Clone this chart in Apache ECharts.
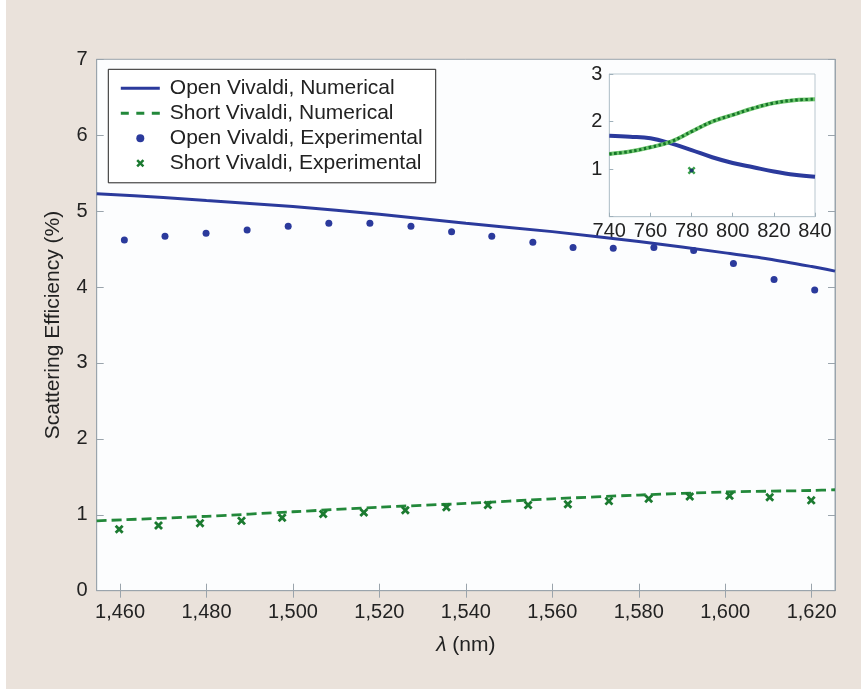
<!DOCTYPE html>
<html>
<head>
<meta charset="utf-8">
<script src="https://cdn.jsdelivr.net/npm/echarts@6/dist/echarts.min.js"></script>
<style>
  html, body { margin: 0; padding: 0; background: #ffffff; }
  #chart { position: absolute; left: 6px; top: 0; width: 855px; height: 689px; background: #eae2db; }
</style>
</head>
<body>
<div id="chart"></div>
<script>
// ---------- data ----------
const xTickValues = [1460, 1480, 1500, 1520, 1540, 1560, 1580, 1600, 1620];
const yTickValues = [0, 1, 2, 3, 4, 5, 6, 7];

// Open Vivaldi, numerical (nm, %)
const openNumX = [1454.6, 1470, 1480, 1500, 1520, 1540, 1560, 1580, 1600, 1610, 1620, 1625.4];
const openNumY = [5.23, 5.18, 5.14, 5.06, 4.96, 4.84, 4.73, 4.60, 4.45, 4.37, 4.27, 4.21];

// Short Vivaldi, numerical
const shortNumX = [1454.6, 1480, 1500, 1520, 1540, 1560, 1580, 1600, 1620, 1625.4];
const shortNumY = [0.92, 0.98, 1.04, 1.10, 1.15, 1.21, 1.26, 1.30, 1.32, 1.33];

// Open Vivaldi, experimental
const openExpX = [1461.0, 1470.4, 1479.9, 1489.4, 1498.9, 1508.3, 1517.8, 1527.3, 1536.7,
                  1546.0, 1555.5, 1564.8, 1574.1, 1583.5, 1592.7, 1601.9, 1611.3, 1620.7];
const openExpY = [4.62, 4.67, 4.71, 4.75, 4.80, 4.84, 4.84, 4.80, 4.73,
                  4.67, 4.59, 4.52, 4.51, 4.52, 4.48, 4.31, 4.10, 3.96];

// Short Vivaldi, experimental
const shortExpX = [1459.8, 1468.9, 1478.5, 1488.1, 1497.5, 1507.0, 1516.4, 1526.0, 1535.5,
                   1545.1, 1554.4, 1563.6, 1573.1, 1582.3, 1591.8, 1601.0, 1610.3, 1619.9];
const shortExpY = [0.81, 0.86, 0.89, 0.92, 0.96, 1.01, 1.03, 1.06, 1.10,
                   1.13, 1.13, 1.14, 1.18, 1.21, 1.24, 1.25, 1.23, 1.19];

// Inset (740–840)
const insetX = [740, 750, 760, 770, 780, 790, 800, 810, 820, 830, 840];
const insetOpenY = [1.70, 1.68, 1.65, 1.54, 1.40, 1.25, 1.13, 1.04, 0.95, 0.88, 0.84];
const insetShortY = [1.32, 1.37, 1.46, 1.58, 1.79, 2.00, 2.14, 2.28, 2.39, 2.45, 2.47];
const insetExpX = [780];
const insetExpOpenY = [0.97];
const insetExpShortY = [0.97];

// ---------- helpers ----------
const zip = (xs, ys) => xs.map((x, i) => [x, ys[i]]);
const fmtComma = v => String(v).replace(/\B(?=(\d{3})+(?!\d))/g, ',');

const BLUE = '#2b3a9c';
const GREEN = '#22883a';
const GREEN_DARK = '#1b7a30';
const FRAME = '#9aa4ac';
const FONT = "'Liberation Sans', Arial, Helvetica, sans-serif";
const XMARK = 'path://M0,2.2L2.2,0L5,2.8L7.8,0L10,2.2L7.2,5L10,7.8L7.8,10L5,7.2L2.2,10L0,7.8L2.8,5Z';
const NOFILL = { color: 'rgba(0,0,0,0)', borderWidth: 0 };

const chart = echarts.init(document.getElementById('chart'), null, { renderer: 'canvas' });

const mainX = { min: 1454.6, max: 1625.4 };

const option = {
  backgroundColor: '#eae2db',
  animation: false,
  textStyle: { fontFamily: FONT, color: '#222' },
  grid: [
    { left: 90.7, top: 59.3, width: 738.3, height: 531.4, show: true,
      backgroundColor: '#fcfdfe', borderColor: FRAME, borderWidth: 1 },
    { left: 603.3, top: 74, width: 205.7, height: 142.7, show: true,
      backgroundColor: '#ffffff', borderColor: '#b9c7cf', borderWidth: 1 }
  ],
  legend: {
    orient: 'vertical',
    left: 102.3, top: 69.3,
    padding: [6.5, 13, 7, 11],
    itemWidth: 39, itemHeight: 8, itemGap: 0,
    backgroundColor: '#ffffff',
    borderColor: '#222', borderWidth: 1, borderRadius: 0,
    textStyle: { fontFamily: FONT, fontSize: 21, color: '#222', lineHeight: 25, padding: [0, 0, 0, 5] },
    data: [
      { name: 'Open Vivaldi, Numerical', itemStyle: NOFILL, lineStyle: { width: 3 } },
      { name: 'Short Vivaldi, Numerical', itemStyle: NOFILL, lineStyle: { width: 3, type: [8, 7.5] } },
      { name: 'Open Vivaldi, Experimental' },
      { name: 'Short Vivaldi, Experimental' }
    ],
    selectedMode: false
  },
  xAxis: [
    { type: 'value', gridIndex: 0, position: 'bottom', min: mainX.min, max: mainX.max,
      name: '{i|λ} (nm)', nameLocation: 'middle', nameGap: 44,
      nameTextStyle: { fontFamily: FONT, fontSize: 21, color: '#222',
        rich: { i: { fontStyle: 'italic', fontFamily: FONT, fontSize: 21, color: '#222' } } },
      axisLine: { show: true, lineStyle: { color: FRAME, width: 1 } },
      axisTick: { show: true, inside: true, length: 7, customValues: xTickValues, lineStyle: { color: FRAME } },
      axisLabel: { show: true, customValues: xTickValues, formatter: fmtComma, fontSize: 20, color: '#222', margin: 12, fontFamily: FONT },
      splitLine: { show: false } },
    { type: 'value', gridIndex: 0, position: 'top', min: mainX.min, max: mainX.max,
      axisLine: { show: true, lineStyle: { color: FRAME, width: 1 } },
      axisTick: { show: true, inside: true, length: 7, customValues: xTickValues, lineStyle: { color: FRAME } },
      axisLabel: { show: false }, splitLine: { show: false } },
    { type: 'value', gridIndex: 1, position: 'bottom', min: 740, max: 840, interval: 20,
      axisLine: { show: true, lineStyle: { color: '#b9c7cf', width: 1 } },
      axisTick: { show: true, inside: true, length: 4, lineStyle: { color: '#9fb0ba' } },
      axisLabel: { show: true, fontSize: 20, color: '#222', margin: 5, fontFamily: FONT },
      splitLine: { show: false } }
  ],
  yAxis: [
    { type: 'value', gridIndex: 0, position: 'left', min: 0, max: 7, interval: 1,
      name: 'Scattering Efficiency (%)', nameLocation: 'middle', nameGap: 33, nameRotate: 90,
      nameTextStyle: { fontFamily: FONT, fontSize: 21, color: '#222' },
      axisLine: { show: true, lineStyle: { color: FRAME, width: 1 } },
      axisTick: { show: true, inside: true, length: 7, lineStyle: { color: FRAME } },
      axisLabel: { show: true, fontSize: 20, color: '#222', margin: 9, fontFamily: FONT },
      splitLine: { show: false } },
    { type: 'value', gridIndex: 0, position: 'right', min: 0, max: 7, interval: 1,
      axisLine: { show: true, lineStyle: { color: FRAME, width: 1 } },
      axisTick: { show: true, inside: true, length: 7, lineStyle: { color: FRAME } },
      axisLabel: { show: false }, splitLine: { show: false } },
    { type: 'value', gridIndex: 1, position: 'left', min: 0, max: 3, interval: 1,
      axisLine: { show: true, lineStyle: { color: '#b9c7cf', width: 1 } },
      axisTick: { show: true, inside: true, length: 4, lineStyle: { color: '#9fb0ba' } },
      axisLabel: { show: true, fontSize: 20, color: '#222', margin: 7, fontFamily: FONT,
        formatter: v => (v === 0 ? '' : String(v)) },
      splitLine: { show: false } }
  ],
  series: [
    { name: 'Open Vivaldi, Numerical', type: 'line', xAxisIndex: 0, yAxisIndex: 0,
      data: zip(openNumX, openNumY), smooth: 0.3, symbol: 'none', showSymbol: false,
      lineStyle: { color: BLUE, width: 3 }, itemStyle: { color: BLUE }, z: 3 },
    { name: 'Short Vivaldi, Numerical', type: 'line', xAxisIndex: 0, yAxisIndex: 0,
      data: zip(shortNumX, shortNumY), smooth: 0.3, symbol: 'none', showSymbol: false,
      lineStyle: { color: GREEN, width: 2.8, type: [10, 5] }, itemStyle: { color: GREEN }, z: 3 },
    { name: 'Open Vivaldi, Experimental', type: 'scatter', xAxisIndex: 0, yAxisIndex: 0,
      data: zip(openExpX, openExpY), symbol: 'circle', symbolSize: 7,
      itemStyle: { color: BLUE, opacity: 1 }, z: 4 },
    { name: 'Short Vivaldi, Experimental', type: 'scatter', xAxisIndex: 0, yAxisIndex: 0,
      data: zip(shortExpX, shortExpY), symbol: XMARK, symbolSize: 9,
      itemStyle: { color: GREEN_DARK, opacity: 1 }, z: 4 },

    // inset
    { name: 'inset-open', type: 'line', xAxisIndex: 2, yAxisIndex: 2,
      data: zip(insetX, insetOpenY), smooth: 0.4, symbol: 'none', showSymbol: false,
      lineStyle: { color: BLUE, width: 4 }, z: 5 },
    { name: 'inset-short-base', type: 'line', xAxisIndex: 2, yAxisIndex: 2,
      data: zip(insetX, insetShortY), smooth: 0.4, symbol: 'none', showSymbol: false,
      lineStyle: { color: '#6cc46c', width: 4 }, z: 5 },
    { name: 'inset-short-dots', type: 'line', xAxisIndex: 2, yAxisIndex: 2,
      data: zip(insetX, insetShortY), smooth: 0.4, symbol: 'none', showSymbol: false,
      lineStyle: { color: '#157528', width: 3, type: [2.5, 2.5] }, z: 6 },
    { name: 'inset-exp-short', type: 'scatter', xAxisIndex: 2, yAxisIndex: 2,
      data: zip(insetExpX, insetExpShortY), symbol: XMARK, symbolSize: 8,
      itemStyle: { color: '#3aa04a', opacity: 1 }, z: 7 },
    { name: 'inset-exp-open', type: 'scatter', xAxisIndex: 2, yAxisIndex: 2,
      data: zip(insetExpX, insetExpOpenY), symbol: 'circle', symbolSize: 4,
      itemStyle: { color: '#1d3a6a', opacity: 1 }, z: 8 }
  ]
};

chart.setOption(option);
</script>
</body>
</html>
